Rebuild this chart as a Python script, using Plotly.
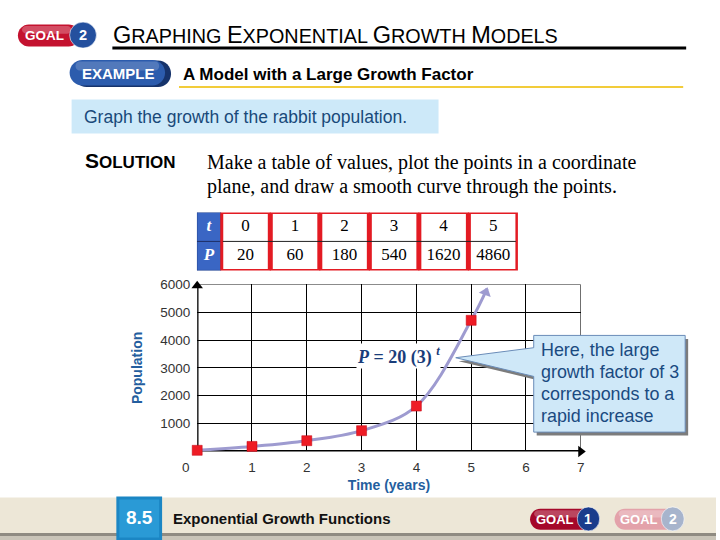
import plotly.graph_objects as go

W, H = 720, 540

# ---------------- data ----------------
t_values = [0, 1, 2, 3, 4, 5]
P_table = [20, 60, 180, 540, 1620, 4860]          # values in the table
P_plotted = [40, 180, 385, 745, 1630, 4710]       # heights of the points as drawn
curve_tip_t = [5.29]
curve_tip_P = [5850]
x_tick_vals = [0, 1, 2, 3, 4, 5, 6, 7]
x_tick_text = ["0", "1", "2", "3", "4", "5", "6", "7"]
y_tick_vals = [1000, 2000, 3000, 4000, 5000, 6000]
y_tick_text = ["1000", "2000", "3000", "4000", "5000", "6000"]
row_labels = ["t", "P"]
callout_lines = ["Here, the large", "growth factor of 3", "corresponds to a", "rapid increase"]

# ---------------- styles ----------------
SANS = "Liberation Sans, Arial, sans-serif"
SERIF = "Liberation Serif, Times New Roman, serif"
RED = "#e31b23"
TBL_BLUE = "#3a66c4"
CURVE = "#9e9bd0"
AX_BLUE = "#245e9e"
TXT_BLUE = "#1a4a80"
BOX_BLUE = "#cde9f9"

# vertical calibration of the photographed page
Y_OFF, Y_SCALE = 6.6, 0.987


def X(px):
    return px / W


def Y(py):
    return 1 - ((py - Y_OFF) / Y_SCALE) / H


def rrect(x0, y0, x1, y1, r):
    k = 0.5523 * r
    p = [
        f"M {X(x0 + r)},{Y(y0)}",
        f"L {X(x1 - r)},{Y(y0)}",
        f"C {X(x1 - r + k)},{Y(y0)} {X(x1)},{Y(y0 + r - k)} {X(x1)},{Y(y0 + r)}",
        f"L {X(x1)},{Y(y1 - r)}",
        f"C {X(x1)},{Y(y1 - r + k)} {X(x1 - r + k)},{Y(y1)} {X(x1 - r)},{Y(y1)}",
        f"L {X(x0 + r)},{Y(y1)}",
        f"C {X(x0 + r - k)},{Y(y1)} {X(x0)},{Y(y1 - r + k)} {X(x0)},{Y(y1 - r)}",
        f"L {X(x0)},{Y(y0 + r)}",
        f"C {X(x0)},{Y(y0 + r - k)} {X(x0 + r - k)},{Y(y0)} {X(x0 + r)},{Y(y0)}",
        "Z",
    ]
    return " ".join(p)


def poly(pts):
    return "M " + " L ".join(f"{X(a)},{Y(b)}" for a, b in pts) + " Z"


shapes = []
annots = []


def add_rect(x0, y0, x1, y1, fill, line=None, lw=0, layer="above"):
    shapes.append(dict(type="rect", xref="paper", yref="paper",
                       x0=X(x0), x1=X(x1), y0=Y(y1), y1=Y(y0),
                       fillcolor=fill, line=dict(color=line or fill, width=lw), layer=layer))


def add_path(path, fill, line=None, lw=0, layer="above"):
    shapes.append(dict(type="path", xref="paper", yref="paper", path=path,
                       fillcolor=fill, line=dict(color=line or fill, width=lw), layer=layer))


def add_circle(x0, y0, x1, y1, fill, line=None, lw=0):
    shapes.append(dict(type="circle", xref="paper", yref="paper",
                       x0=X(x0), x1=X(x1), y0=Y(y1), y1=Y(y0),
                       fillcolor=fill, line=dict(color=line or fill, width=lw)))


def add_text(px, py, text, size, color="black", family=SANS, xanchor="left", **kw):
    annots.append(dict(xref="paper", yref="paper", x=X(px), y=Y(py), text=text,
                       showarrow=False, xanchor=xanchor, yanchor="middle",
                       font=dict(size=size, color=color, family=family), **kw))


def pill(x0, y0, x1, y1, cx0, cy0, cx1, cy1, red, blue, label, num, size):
    add_path(rrect(x0, y0, x1, y1, (y1 - y0) / 2), red)
    add_path(rrect(x0 + 4, y0 + 1.5, x1 - 8, y0 + (y1 - y0) * 0.42, (y1 - y0) * 0.2),
             "rgba(255,255,255,0.25)")
    add_circle(cx0, cy0, cx1, cy1, blue, "rgba(255,255,255,0.6)", 1)
    add_text((x0 + cx0) / 2 + 1, (y0 + y1) / 2, f"<b>{label}</b>", size, "white", SANS, "center")
    add_text((cx0 + cx1) / 2, (cy0 + cy1) / 2, f"<b>{num}</b>", size + 1, "white", SANS, "center")


# ---------------- header ----------------
pill(18, 24, 80, 46, 70, 21.7, 97, 47.7, "#c4122f", "#24509e", "GOAL", "2", 13.5)
big = '<span style="font-size:23.5px">{}</span>'
title = (big.format("G") + "RAPHING " + big.format("E") + "XPONENTIAL " +
         big.format("G") + "ROWTH " + big.format("M") + "ODELS")
add_text(112, 35, title, 19.8, "black", SANS)
shapes.append(dict(type="line", xref="paper", yref="paper", x0=X(113), x1=X(690),
                   y0=Y(47.7), y1=Y(47.7), line=dict(color="black", width=3)))

add_path(rrect(74, 60, 172, 86.5, 13), "#16336b")
add_path(rrect(70, 59.5, 166, 85, 12.7), "#2c5cad")
add_path(rrect(76, 61, 160, 70, 4), "rgba(255,255,255,0.18)")
add_text(119, 73, "<b>EXAMPLE</b>", 15, "white", SANS, "center")
add_text(182, 74, "<b>A Model with a Large Growth Factor</b>", 17, "black", SANS)
shapes.append(dict(type="line", xref="paper", yref="paper", x0=X(180), x1=X(687),
                   y0=Y(86.7), y1=Y(86.7), line=dict(color="#f2cc3a", width=2)))

add_rect(72, 99, 441, 133, BOX_BLUE, layer="below")
add_text(82, 116.5, "Graph the growth of the rabbit population.", 17.5, "#19497a", SANS)

add_text(83, 160, '<b><span style="font-size:21px">S</span>OLUTION</b>', 17, "black", SANS)
add_text(206, 162, "Make a table of values, plot the points in a coordinate", 20, "black", SERIF)
add_text(206, 186, "plane, and draw a smooth curve through the points.", 20, "black", SERIF)

# ---------------- footer ----------------
add_rect(0, 497, 720, 532.5, "#ede7d7", layer="below")
add_rect(0, 532.5, 720, 535.5, "#8f8b82", layer="below")
add_rect(0, 535.5, 720, 541, "#c9c4b8", layer="below")
add_rect(117, 496, 163, 541, "#1b86c4")
add_rect(120, 499, 160, 537, "#2a9ad6")
add_text(140, 517, "<b>8.5</b>", 19, "white", SANS, "center")
add_text(172, 518, "<b>Exponential Growth Functions</b>", 15, "#111111", SANS)
pill(533, 508.3, 596, 529.3, 580.5, 506.5, 603, 530.5, "#a5082a", "#1a3c8c", "GOAL", "1", 13)
pill(618, 508.3, 680, 529.3, 665, 506.5, 688, 530.5, "#e3a2aa", "#a7b4cc", "GOAL", "2", 13)

# ---------------- callout ----------------
call_pts = [(536.7, 335), (689, 335), (689, 431.7), (536.7, 431.7),
            (536.7, 376), (458.3, 357.3), (536.7, 347.3)]
add_path(poly([(a + 3, b + 3.5) for a, b in call_pts]), "#7c7c7c")
add_path(poly(call_pts), "#cfe8f8", "#6a8cb8", 1)
for i, line in enumerate(callout_lines):
    add_text(542, 350 + i * 21.7, line, 17.9, TXT_BLUE, SANS)

# equation label
annots.append(dict(xref="paper", yref="paper", x=X(358), y=Y(356),
                   text="<b><i>P</i> = 20 (3) <sup><i>t</i></sup></b>", showarrow=False,
                   xanchor="left", yanchor="middle", bgcolor="white", borderpad=0,
                   font=dict(size=18, color="#1a3d7a", family=SERIF)))

# origin label
add_text(187, 467, x_tick_text[0], 13.5, "#333333", SANS, "center")

# thick axes and grid border
for s in [dict(x0=0, x1=7.0, y0=0, y1=0, w=2.6), dict(x0=0, x1=0, y0=0, y1=5950, w=2.6),
          dict(x0=0, x1=7, y0=6000, y1=6000, w=1), dict(x0=7, x1=7, y0=0, y1=6000, w=1)]:
    shapes.append(dict(type="line", xref="x", yref="y", x0=s["x0"], x1=s["x1"],
                       y0=s["y0"], y1=s["y1"], line=dict(color="black", width=s["w"]),
                       layer="between"))

# ---------------- table (own hidden axes) ----------------
n = len(t_values)
col_w = [24] + [49.8] * n
edges = [0]
for w_ in col_w:
    edges.append(edges[-1] + w_)
centers = [(edges[i] + edges[i + 1]) / 2 for i in range(n + 1)]
for i in range(n + 1):
    if i == 0:
        shapes.append(dict(type="rect", xref="x2", yref="y2", x0=edges[0], x1=edges[1],
                           y0=0, y1=2, fillcolor=TBL_BLUE, line=dict(color="#23408a", width=1),
                           layer="below"))
        shapes.append(dict(type="line", xref="x2", yref="y2", x0=edges[0], x1=edges[1],
                           y0=1, y1=1, line=dict(color="#1d2f66", width=1), layer="below"))
    else:
        shapes.append(dict(type="rect", xref="x2", yref="y2", x0=edges[i] + 1, x1=edges[i + 1] - 1,
                           y0=0, y1=2, fillcolor="white", line=dict(color=RED, width=3),
                           layer="below"))
shapes.append(dict(type="line", xref="x2", yref="y2", x0=edges[1] + 2, x1=edges[-1] - 2,
                   y0=1, y1=1, line=dict(color="#222222", width=1), layer="below"))

fig = go.Figure()

tbl_text = (["<b><i>%s</i></b>" % row_labels[0]] + [str(v) for v in t_values] +
            ["<b><i>%s</i></b>" % row_labels[1]] + [str(p) for p in P_table])
tbl_x = centers + centers
tbl_y = [0.5] * (n + 1) + [1.5] * (n + 1)
tbl_col = (["white"] + ["black"] * n) * 2
fig.add_trace(go.Scatter(x=tbl_x, y=tbl_y, text=tbl_text, mode="text", xaxis="x2", yaxis="y2",
                         textposition="middle center",
                         textfont=dict(family=SERIF, size=17, color=tbl_col),
                         cliponaxis=False, hoverinfo="skip", showlegend=False))

# smooth curve
fig.add_trace(go.Scatter(x=t_values + curve_tip_t, y=P_plotted + curve_tip_P, mode="lines",
                         line=dict(color=CURVE, width=3, shape="spline", smoothing=1.0),
                         cliponaxis=False, hoverinfo="skip", showlegend=False))
# arrowhead of the curve
fig.add_trace(go.Scatter(x=[curve_tip_t[0] - 0.025], y=[curve_tip_P[0] - 135], mode="markers",
                         marker=dict(symbol="triangle-up", size=11, color=CURVE, angle=20),
                         cliponaxis=False, hoverinfo="skip", showlegend=False))
# axis arrowheads
fig.add_trace(go.Scatter(x=[7.0, 0], y=[0, 5950], mode="markers",
                         marker=dict(symbol=["triangle-right", "triangle-up"], size=10,
                                     color="black"),
                         cliponaxis=False, hoverinfo="skip", showlegend=False))
# points
fig.add_trace(go.Scatter(x=t_values, y=P_plotted, mode="markers",
                         marker=dict(symbol="square", size=10, color="#ee1c25",
                                     line=dict(color="#c00010", width=0.5)),
                         cliponaxis=False, showlegend=False))

fig.update_layout(
    width=W, height=H, autosize=False,
    margin=dict(l=0, r=0, t=0, b=0),
    paper_bgcolor="white", plot_bgcolor="white",
    showlegend=False,
    shapes=shapes, annotations=annots,
    xaxis=dict(domain=[X(198.3), X(584)], range=[0, 7], showgrid=True, gridcolor="black",
               gridwidth=1, zeroline=False, showline=False, ticks="",
               tickmode="array", tickvals=x_tick_vals[1:], ticktext=x_tick_text[1:],
               tickfont=dict(family=SANS, size=13.5, color="#333333"),
               ticklabelstandoff=6,
               title=dict(text="<b>Time (years)</b>", standoff=6,
                          font=dict(family=SANS, size=14, color=AX_BLUE))),
    yaxis=dict(domain=[Y(451), Y(284)], range=[0, 6000], showgrid=True, gridcolor="black",
               gridwidth=1, zeroline=False, showline=False, ticks="",
               tickmode="array", tickvals=y_tick_vals, ticktext=y_tick_text,
               tickfont=dict(family=SANS, size=13.5, color="#333333"),
               ticklabelstandoff=6,
               title=dict(text="<b>Population</b>", standoff=14,
                          font=dict(family=SANS, size=14, color=AX_BLUE))),
    xaxis2=dict(domain=[X(198), X(198 + edges[-1])], range=[0, edges[-1]], visible=False,
                anchor="y2", fixedrange=True),
    yaxis2=dict(domain=[Y(270), Y(212)], range=[2, 0], visible=False, anchor="x2",
                fixedrange=True),
)

page_fix = (
    "var d=document.documentElement,b=document.body;"
    "d.style.margin='0';d.style.padding='0';d.style.overflow='hidden';"
    "b.style.margin='0';b.style.padding='0';b.style.overflow='hidden';"
    "var g=document.querySelector('.plotly-graph-div');"
    "if(g){g.style.position='absolute';g.style.top='0px';g.style.left='0px';}"
)
fig.write_html("out.html", config={"displayModeBar": False}, post_script=page_fix)
